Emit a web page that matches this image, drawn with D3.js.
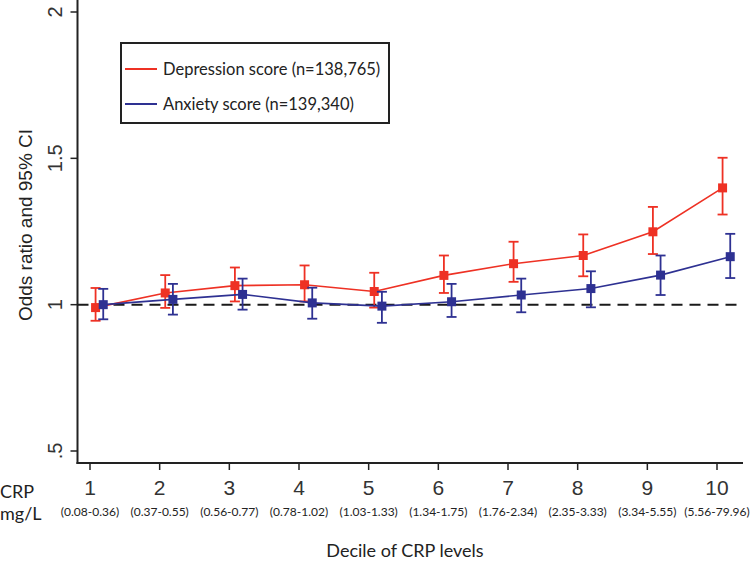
<!DOCTYPE html>
<html><head><meta charset="utf-8">
<script src="https://cdn.jsdelivr.net/npm/d3@7"></script>
<style>body{margin:0;background:#fff}svg{display:block}</style>
</head><body>
<svg id="c" width="750" height="562"></svg>
<script>
const deciles = [1,2,3,4,5,6,7,8,9,10];
const crpRanges = ["(0.08-0.36)","(0.37-0.55)","(0.56-0.77)","(0.78-1.02)","(1.03-1.33)","(1.34-1.75)","(1.76-2.34)","(2.35-3.33)","(3.34-5.55)","(5.56-79.96)"];
const depOR  = [0.99,1.04,1.065,1.068,1.045,1.10,1.14,1.168,1.249,1.399];
const depLo  = [0.945,0.989,1.011,1.011,0.99,1.04,1.078,1.097,1.173,1.308];
const depHi  = [1.057,1.101,1.127,1.134,1.109,1.168,1.215,1.24,1.334,1.502];
const anxOR  = [1.0,1.018,1.035,1.006,0.995,1.01,1.033,1.055,1.101,1.164];
const anxLo  = [0.95,0.966,0.983,0.952,0.938,0.958,0.974,0.991,1.033,1.091];
const anxHi  = [1.054,1.071,1.089,1.058,1.044,1.071,1.089,1.114,1.168,1.242];
const yTicks = [0.5,1,1.5,2];
const yTickLabels = [".5","1","1.5","2"];
const legendLabels = ["Depression score (n=138,765)","Anxiety score (n=139,340)"];

const svg = d3.select("#c");
const x = d3.scaleLinear().domain([1,10]).range([90,717]);
const y = d3.scaleLinear().domain([0.5,2]).range([451,12]);
const axisX0 = 77.5, axisY0 = 463;

// axes lines
svg.append("line").attr("x1",axisX0).attr("x2",axisX0).attr("y1",0).attr("y2",axisY0+1)
  .attr("stroke","#222").attr("stroke-width",2);
svg.append("line").attr("x1",axisX0-1).attr("x2",743).attr("y1",axisY0).attr("y2",axisY0)
  .attr("stroke","#222").attr("stroke-width",2);

// y ticks
yTicks.forEach((t,i)=>{
  svg.append("line").attr("x1",axisX0-7).attr("x2",axisX0).attr("y1",y(t)).attr("y2",y(t))
    .attr("stroke","#222").attr("stroke-width",1.5);
  svg.append("text").attr("transform",`translate(62,${y(t)}) rotate(-90)`)
    .attr("text-anchor","middle").attr("font-family","Liberation Sans, Arial, sans-serif")
    .attr("font-size",20).attr("fill","#333").text(yTickLabels[i]);
});
svg.append("text").attr("transform",`translate(32,225) rotate(-90)`)
  .attr("text-anchor","middle").attr("font-family","Liberation Sans, Arial, sans-serif")
  .attr("font-size",19).attr("fill","#222").text("Odds ratio and 95% CI");

// x ticks
deciles.forEach((d,i)=>{
  svg.append("line").attr("x1",x(d)).attr("x2",x(d)).attr("y1",axisY0).attr("y2",axisY0+7)
    .attr("stroke","#222").attr("stroke-width",1.5);
  svg.append("text").attr("x",x(d)).attr("y",495).attr("text-anchor","middle")
    .attr("font-family","Liberation Sans, Arial, sans-serif").attr("font-size",21)
    .attr("fill","#333").text(d);
  svg.append("text").attr("x",x(d)).attr("y",516).attr("text-anchor","middle")
    .attr("font-family","Lato, sans-serif").attr("font-size",12)
    .attr("fill","#222").text(crpRanges[i]);
});
svg.append("text").attr("x",0).attr("y",498).attr("font-family","Lato, sans-serif")
  .attr("font-size",18).attr("fill","#222").text("CRP");
svg.append("text").attr("x",0).attr("y",520).attr("font-family","Lato, sans-serif")
  .attr("font-size",18).attr("fill","#222").text("mg/L");
svg.append("text").attr("x",405).attr("y",557).attr("text-anchor","middle")
  .attr("font-family","Lato, sans-serif").attr("font-size",18).attr("fill","#222")
  .text("Decile of CRP levels");

// reference line
svg.append("line").attr("x1",axisX0).attr("x2",742).attr("y1",y(1)).attr("y2",y(1))
  .attr("stroke","#1a1a1a").attr("stroke-width",2).attr("stroke-dasharray","11,7");

function series(vals, lo, hi, color, off){
  const pts = deciles.map((d,i)=>({x:x(d+off), v:vals[i], lo:lo[i], hi:hi[i]}));
  svg.append("path").datum(pts).attr("fill","none").attr("stroke",color).attr("stroke-width",1.6)
    .attr("d", d3.line().x(p=>p.x).y(p=>y(p.v)));
  const g = svg.append("g").attr("stroke",color).attr("stroke-width",1.8);
  pts.forEach(p=>{
    g.append("line").attr("x1",p.x).attr("x2",p.x).attr("y1",y(p.lo)).attr("y2",y(p.hi));
    g.append("line").attr("x1",p.x-5).attr("x2",p.x+5).attr("y1",y(p.lo)).attr("y2",y(p.lo));
    g.append("line").attr("x1",p.x-5).attr("x2",p.x+5).attr("y1",y(p.hi)).attr("y2",y(p.hi));
  });
  svg.append("g").selectAll("rect").data(pts).join("rect")
    .attr("x",p=>p.x-4.5).attr("y",p=>y(p.v)-4.5).attr("width",9).attr("height",9)
    .attr("fill",color);
}
series(depOR,depLo,depHi,"#EE3124",0.08);
series(anxOR,anxLo,anxHi,"#2E3192",0.19);

// legend
svg.append("rect").attr("x",121).attr("y",43).attr("width",268).attr("height",80)
  .attr("fill","#fff").attr("stroke","#222").attr("stroke-width",2);
const legColors = ["#EE3124","#2E3192"];
[69,104].forEach((ly,i)=>{
  svg.append("line").attr("x1",125).attr("x2",157).attr("y1",ly).attr("y2",ly)
    .attr("stroke",legColors[i]).attr("stroke-width",2);
  svg.append("text").attr("x",163).attr("y",ly+6).attr("font-family","Lato, sans-serif")
    .attr("font-size",16.5).attr("fill","#222").text(legendLabels[i]);
});
</script>
</body></html>
